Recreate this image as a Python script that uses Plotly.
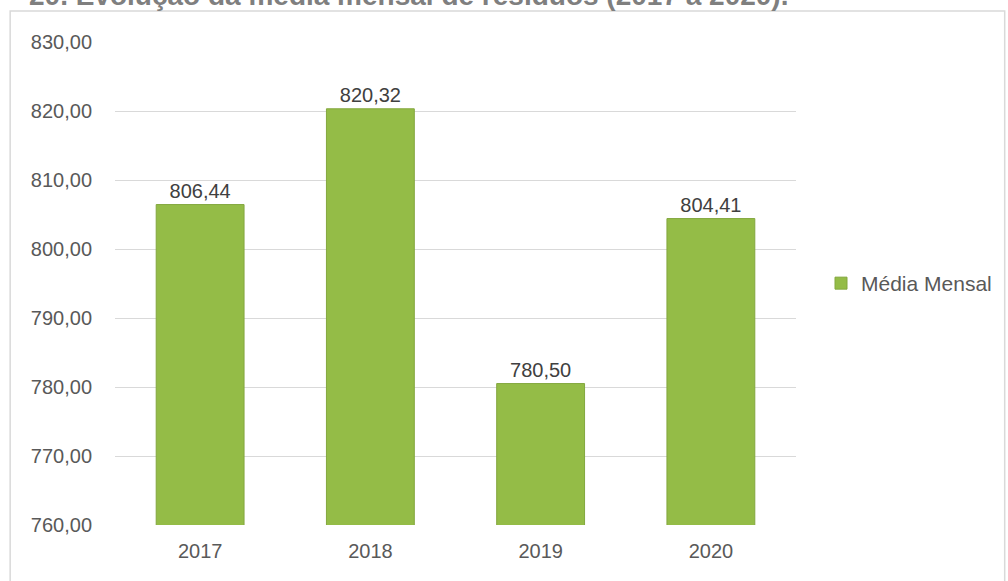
import plotly.graph_objects as go

# Data
categories = ["2017", "2018", "2019", "2020"]
values = [806.44, 820.32, 780.50, 804.41]
series_name = "Média Mensal"
title_text = "20. Evolução da média mensal de resíduos (2017 a 2020)."
y_ticks = [760, 770, 780, 790, 800, 810, 820, 830]

W, H = 1008, 581
L, R, T, B = 115, 797, 42, 525  # plot area in pixels
PW, PH = R - L, B - T

def px(x):
    return (x - L) / PW

def py(y):
    return (B - y) / PH

FONT = "Liberation Sans"

fig = go.Figure()
fig.add_trace(go.Bar(
    x=categories,
    y=values,
    name=series_name,
    marker=dict(color="#94bc47", line=dict(color="#83a73e", width=1)),
    text=values,
    texttemplate="%{y:.2f}",
    textposition="outside",
    textfont=dict(family=FONT, size=20, color="#404040"),
    cliponaxis=False,
))

fig.update_layout(
    width=W, height=H,
    margin=dict(l=L, r=W - R, t=T, b=H - B, pad=0),
    paper_bgcolor="white",
    plot_bgcolor="white",
    separators=",.",
    bargap=0.484,
    showlegend=True,
    legend=dict(
        x=px(821), y=0.5, xanchor="left", yanchor="middle",
        font=dict(family=FONT, size=21, color="#595959"),
        itemwidth=30,
    ),
    xaxis=dict(
        showgrid=False, showline=False, ticks="",
        tickfont=dict(family=FONT, size=20, color="#595959"),
        ticklabelstandoff=12,
    ),
    yaxis=dict(
        range=[760, 830], tickvals=y_ticks, tickformat=".2f",
        showgrid=True, gridcolor="#d9d9d9", gridwidth=1,
        zeroline=False, showline=False, ticks="",
        tickfont=dict(family=FONT, size=20, color="#595959"),
        ticklabelstandoff=22,
    ),
    shapes=[dict(
        type="rect", xref="paper", yref="paper",
        x0=px(10), x1=px(1006), y0=py(11), y1=py(600),
        line=dict(color="#d9d9d9", width=1.5), fillcolor="rgba(0,0,0,0)",
        layer="below",
    )],
    annotations=[dict(
        text=title_text, xref="paper", yref="paper",
        x=px(791), y=py(13), xanchor="right", yanchor="bottom",
        showarrow=False,
        font=dict(family=FONT, size=28, color="#7f7f7f", weight="bold"),
    )],
)

fig.write_html("out.html", config={"displayModeBar": False},
               post_script="document.body.style.margin='0';")
